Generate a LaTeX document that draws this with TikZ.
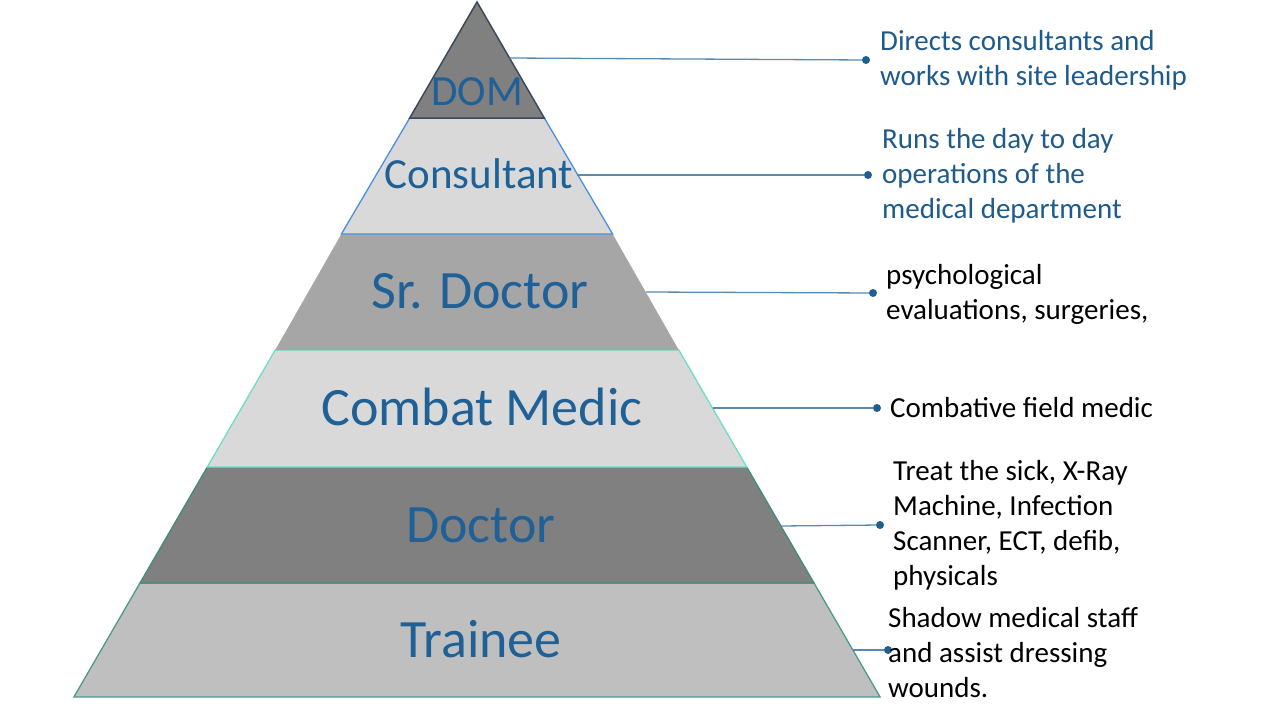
\documentclass[tikz,border=0pt]{standalone}
\usepackage{fontspec}
\setmainfont{Carlito}
\usetikzlibrary{positioning}

\definecolor{tierblue}{HTML}{1F6096}
\definecolor{noteblue}{HTML}{1F5A8C}
\definecolor{linkblue}{HTML}{5A8AB0}
\definecolor{dotblue}{HTML}{1F5F8F}
\definecolor{domline}{HTML}{3B4A5A}
\definecolor{consline}{HTML}{4A90E2}
\definecolor{medicline}{HTML}{6FDCCB}
\definecolor{docline}{HTML}{3F8C7C}
\definecolor{trainline}{HTML}{4E9A8A}

\tikzset{
  tierlabel/.style={anchor=base, inner sep=0pt, text=tierblue},
  bigtier/.style={tierlabel, font=\fontsize{54}{60}\selectfont},
  smalltier/.style={tierlabel, font=\fontsize{43}{50}\selectfont},
  link/.style={draw=linkblue, line width=1.3pt},
  linkdot/.style={circle, fill=dotblue, inner sep=0pt, minimum size=8pt},
  note/.style={anchor=base west, align=left, inner sep=0pt,
    font=\fontsize{29}{35}\selectfont}
}

\begin{document}
\begin{tikzpicture}[x=1pt,y=-1pt]
    \useasboundingbox[fill=white] (0,0) rectangle (1280,720);

    %Draw the tiers, bottom first
    \filldraw[fill=black!25, draw=trainline, line width=1.3pt]
        (140,583) -- (814,583) -- (880.1,697) -- (73.9,697) -- cycle;
    \filldraw[fill=black!50, draw=docline, line width=1.3pt]
        (207.3,467) -- (746.7,467) -- (814,583) -- (140,583) -- cycle;
    \filldraw[fill=black!15, draw=medicline, line width=1.3pt]
        (275.2,350) -- (678.8,350) -- (746.7,467) -- (207.3,467) -- cycle;
    \fill[black!35]
        (341.4,234) -- (612.6,234) -- (678.8,350) -- (275.2,350) -- cycle;
    \filldraw[fill=black!15, draw=consline, line width=1.3pt]
        (409.7,118) -- (544.3,118) -- (612.6,234) -- (341.4,234) -- cycle;
    \filldraw[fill=black!50, draw=domline, line width=1.5pt]
        (477,2) -- (544.3,118) -- (409.7,118) -- cycle;

    %Tier labels
    \node[smalltier] (dom) at (477,105) {DOM};
    \node[smalltier] (consultant) at (479,188) {Consultant};
    \node[bigtier] (srdoctor) at (480,308) {Sr. Doctor};
    \node[bigtier] (medic) at (482,425) {Combat Medic};
    \node[bigtier] (doctor) at (481,542) {Doctor};
    \node[bigtier] (trainee) at (481,657) {Trainee};

    %Points on the right edge
    \coordinate (dom-e) at (509.5,58);
    \coordinate (consultant-e) at (577,175);
    \coordinate (srdoctor-e) at (646,292);
    \coordinate (medic-e) at (713,408);
    \coordinate (doctor-e) at (781,526);
    \coordinate (trainee-e) at (853,650);

    %Dots
    \node[linkdot] (dom-d) at (866,60) {};
    \node[linkdot] (consultant-d) at (868,175) {};
    \node[linkdot] (srdoctor-d) at (873,293) {};
    \node[linkdot] (medic-d) at (877,408) {};
    \node[linkdot] (doctor-d) at (880,525) {};
    \node[linkdot] (trainee-d) at (888,650) {};

    \draw[link] (dom-e) -- (dom-d);
    \draw[link] (consultant-e) -- (consultant-d);
    \draw[link] (srdoctor-e) -- (srdoctor-d);
    \draw[link] (medic-e) -- (medic-d);
    \draw[link] (doctor-e) -- (doctor-d);
    \draw[link] (trainee-e) -- (trainee-d);

    %Notes (anchored at the last line)
    \node[note, text=noteblue] (dom-n) at (880,85)
        {Directs consultants and\\works with site leadership};
    \node[note, text=noteblue] (consultant-n) at (882,218)
        {Runs the day to day\\operations of the\\medical department};
    \node[note] (srdoctor-n) at (886,319)
        {psychological\\evaluations, surgeries,};
    \node[note] (medic-n) at (890,417) {Combative field medic};
    \node[note] (doctor-n) at (893,585)
        {Treat the sick, X-Ray\\Machine, Infection\\Scanner, ECT, defib,\\physicals};
    \node[note] (trainee-n) at (888,697)
        {Shadow medical staff\\and assist dressing\\wounds.};

\end{tikzpicture}
\end{document}
